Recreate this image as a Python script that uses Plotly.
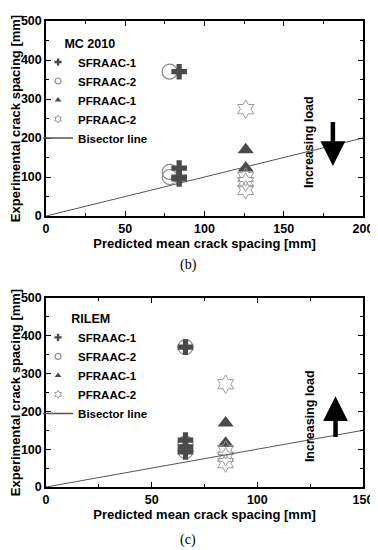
import plotly.graph_objects as go

# ---- data (b) MC 2010 ----
mc_sf1_x = [84, 84, 84, 84]
mc_sf1_y = [370, 123, 100, 95]
mc_sf2_x = [78, 78, 78]
mc_sf2_y = [370, 113, 100]
mc_pf1_x = [126, 126]
mc_pf1_y = [170, 123]
mc_pf2_x = [126, 126, 126, 126]
mc_pf2_y = [274, 100, 87, 67]
mc_bis = [0, 200]

# ---- data (c) RILEM ----
ri_sf1_x = [66, 66, 66, 66]
ri_sf1_y = [370, 124, 106, 93]
ri_sf2_x = [66, 66, 66]
ri_sf2_y = [370, 115, 95]
ri_pf1_x = [85, 85]
ri_pf1_y = [169, 116]
ri_pf2_x = [85, 85, 85, 85]
ri_pf2_y = [272, 98, 80, 63]
ri_bis = [0, 150]

names = ["SFRAAC-1", "SFRAAC-2", "PFRAAC-1", "PFRAAC-2", "Bisector line"]

FONT = "Liberation Sans"
dark = "#4a4a4a"
grey = "#8a8a8a"
lgrey = "#9a9a9a"

fig = go.Figure()

styles = [
    dict(symbol="cross", color=dark, line=dict(width=0)),
    dict(symbol="circle-open", color=grey, line=dict(width=1.2)),
    dict(symbol="triangle-up", color=dark, line=dict(width=0)),
    dict(symbol="hexagram-open", color=lgrey, line=dict(width=1)),
]
sizes = [13, 15, 14, 14]
draw_order = [1, 0, 2, 3]

def add_panel(xa, ya, leg, sets, bis):
    for i in draw_order:
        sx, sy = sets[i]
        fig.add_trace(go.Scatter(x=sx, y=sy, mode="markers", name=names[i], showlegend=False,
                                 marker=dict(size=sizes[i], **styles[i]), xaxis=xa, yaxis=ya))
    fig.add_trace(go.Scatter(x=bis, y=bis, mode="lines", name=names[4], showlegend=False,
                             line=dict(color="#555555", width=1), xaxis=xa, yaxis=ya))
    # legend entries (small symbols, as in the reference)
    for i in range(4):
        fig.add_trace(go.Scatter(x=[None], y=[None], mode="markers", name=names[i], legend=leg,
                                 legendrank=i + 1,
                                 marker=dict(size=6, **styles[i]), xaxis=xa, yaxis=ya))
    fig.add_trace(go.Scatter(x=[None], y=[None], mode="lines", name=names[4], legend=leg, legendrank=5,
                             line=dict(color="#555555", width=1.5), xaxis=xa, yaxis=ya))

add_panel("x", "y", "legend",
          [(mc_sf1_x, mc_sf1_y), (mc_sf2_x, mc_sf2_y), (mc_pf1_x, mc_pf1_y), (mc_pf2_x, mc_pf2_y)], mc_bis)
add_panel("x2", "y2", "legend2",
          [(ri_sf1_x, ri_sf1_y), (ri_sf2_x, ri_sf2_y), (ri_pf1_x, ri_pf1_y), (ri_pf2_x, ri_pf2_y)], ri_bis)

tickfont = dict(family=FONT, size=12.5, color="black", weight="bold")
titlefont = dict(family=FONT, size=13, color="black", weight="bold")

def axis_common(rng, dtick, minor_dtick):
    return dict(range=rng, dtick=dtick, showgrid=False, zeroline=False, automargin=False,
                showline=True, linecolor="black", linewidth=1.5, mirror="ticks",
                ticks="inside", ticklen=5, tickwidth=1, tickcolor="black",
                minor=dict(dtick=minor_dtick, ticks="inside", ticklen=3, tickcolor="black"),
                tickfont=tickfont)

legfont = dict(family=FONT, size=11.5, color="black", weight="bold")

# page body has an 8px margin, so the figure is drawn 8px in from the top-left corner
fig.update_layout(
    width=370, height=542,
    margin=dict(l=38, r=15, t=13, b=63),
    paper_bgcolor="white", plot_bgcolor="white",
    xaxis=dict(domain=[0, 1], anchor="y",
               title=dict(text="Predicted mean crack spacing [mm]", font=titlefont, standoff=3),
               **axis_common([0, 200], 50, 25)),
    yaxis=dict(domain=[0.5815, 1.0], anchor="x",
               title=dict(text="Experimental crack spacing [mm]", font=titlefont, standoff=3),
               **axis_common([0, 500], 100, 50)),
    xaxis2=dict(domain=[0, 1], anchor="y2",
                title=dict(text="Predicted mean crack spacing [mm]", font=titlefont, standoff=3),
                **axis_common([0, 150], 50, 25)),
    yaxis2=dict(domain=[0.0, 0.4056], anchor="x2",
                title=dict(text="Experimental crack spacing [mm]", font=titlefont, standoff=3),
                **axis_common([0, 500], 100, 50)),
    legend=dict(x=-0.025, y=0.978, xanchor="left", yanchor="top",
                bgcolor="rgba(0,0,0,0)", itemsizing="trace",
                title=dict(text="       MC 2010", font=dict(family=FONT, size=12.5, color="black", weight="bold")),
                font=legfont, tracegroupgap=0, itemwidth=30),
    legend2=dict(x=-0.025, y=0.387, xanchor="left", yanchor="top",
                 bgcolor="rgba(0,0,0,0)", itemsizing="trace",
                 title=dict(text="         RILEM", font=dict(family=FONT, size=12.5, color="black", weight="bold")),
                 font=legfont, tracegroupgap=0, itemwidth=30),
    showlegend=True,
)

# arrows and text
fig.add_annotation(x=181, y=128, ax=181, ay=245, xref="x", yref="y", axref="x", ayref="y",
                   showarrow=True, arrowhead=2, arrowsize=1.1, arrowwidth=4.5, arrowcolor="black", text="")
fig.add_annotation(x=166, y=190, xref="x", yref="y", text="Increasing load", textangle=-90,
                   showarrow=False, font=dict(family=FONT, size=12.5, color="black", weight="bold"))
fig.add_annotation(x=137, y=240, ax=137, ay=128, xref="x2", yref="y2", axref="x2", ayref="y2",
                   showarrow=True, arrowhead=2, arrowsize=1.1, arrowwidth=4.5, arrowcolor="black", text="")
fig.add_annotation(x=125, y=188, xref="x2", yref="y2", text="Increasing load", textangle=-90,
                   showarrow=False, font=dict(family=FONT, size=12.5, color="black", weight="bold"))

# captions
fig.add_annotation(x=0.448, y=(487 - 265) / 466, xref="paper", yref="paper", text="(b)", showarrow=False,
                   font=dict(family="Liberation Serif", size=14, color="black"))
fig.add_annotation(x=0.448, y=(487 - 540) / 466, xref="paper", yref="paper", text="(c)", showarrow=False,
                   yanchor="middle", font=dict(family="Liberation Serif", size=14, color="black"))

fig.write_html("out.html")
